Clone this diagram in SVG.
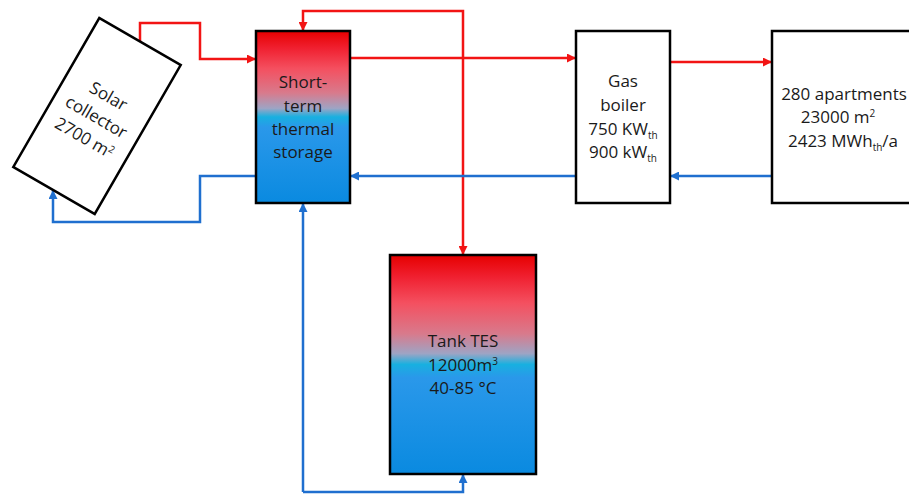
<svg xmlns="http://www.w3.org/2000/svg" width="909" height="497" viewBox="0 0 909 497">
<style>
.box{fill:#fff;stroke:#000;stroke-width:2.5}
.tank{stroke:#000;stroke-width:2.5}
.t{font-family:"Open Sans","Liberation Sans",sans-serif;font-size:17px;fill:#1a1a1a;text-anchor:middle}
.hot{fill:none;stroke:#f21414;stroke-width:2.5}
.cold{fill:none;stroke:#1f6fcf;stroke-width:2.5}
.sub{font-size:10px}
</style>
<defs>
<linearGradient id="grad" x1="0" y1="0" x2="0" y2="1">
<stop offset="0" stop-color="#e60000"/>
<stop offset="0.1" stop-color="#f02030"/>
<stop offset="0.22" stop-color="#f45060"/>
<stop offset="0.36" stop-color="#d87a8c"/>
<stop offset="0.45" stop-color="#9ea4c4"/>
<stop offset="0.5" stop-color="#18b0e0"/>
<stop offset="0.56" stop-color="#2a98ea"/>
<stop offset="1" stop-color="#0a8ae0"/>
</linearGradient>
<marker id="ah" viewBox="0 0 10 10" refX="10" refY="5" markerWidth="9" markerHeight="9" markerUnits="userSpaceOnUse" orient="auto">
<path d="M0,0 L10,5 L0,10 z" fill="#f21414"/>
</marker>
<marker id="ac" viewBox="0 0 10 10" refX="10" refY="5" markerWidth="9" markerHeight="9" markerUnits="userSpaceOnUse" orient="auto">
<path d="M0,0 L10,5 L0,10 z" fill="#1f6fcf"/>
</marker>
</defs>
<g id="connectors">
<path class="hot" d="M140,43 V23 H200 V59 H256" marker-end="url(#ah)"/>
<path class="hot" d="M463,58 V11 H303 V31" marker-end="url(#ah)"/>
<path class="hot" d="M463,58 V255" marker-end="url(#ah)"/>
<path class="hot" d="M350,58 H576" marker-end="url(#ah)"/>
<path class="hot" d="M670,62 H772" marker-end="url(#ah)"/>
<path class="cold" d="M772,176 H670" marker-end="url(#ac)"/>
<path class="cold" d="M576,176 H350" marker-end="url(#ac)"/>
<path class="cold" d="M256,176 H200 V222 H53 V190" marker-end="url(#ac)"/>
<path class="cold" d="M303,492 V203" marker-end="url(#ac)"/>
<path class="cold" d="M303,492 H463 V474" marker-end="url(#ac)"/>
</g>
<g id="solar-collector" transform="translate(97,116) rotate(30)">
<rect class="box" x="-47" y="-86" width="94" height="172"/>
<text class="t" x="0" y="-17">Solar</text>
<text class="t" x="0" y="7">collector</text>
<text class="t" x="0" y="31">2700 m<tspan class="sub" dy="-6">2</tspan></text>
</g>
<g id="short-term-storage">
<rect class="tank" x="256" y="31" width="94" height="172" fill="url(#grad)"/>
<text class="t" x="303" y="88">Short-</text>
<text class="t" x="303" y="112">term</text>
<text class="t" x="303" y="135">thermal</text>
<text class="t" x="303" y="158">storage</text>
</g>
<g id="gas-boiler">
<rect class="box" x="576" y="31" width="94" height="172"/>
<text class="t" x="623" y="87">Gas</text>
<text class="t" x="623" y="111">boiler</text>
<text class="t" x="623" y="135">750 KW<tspan class="sub" dy="4">th</tspan></text>
<text class="t" x="623" y="158">900 kW<tspan class="sub" dy="4">th</tspan></text>
</g>
<g id="apartments">
<rect class="box" x="772" y="31" width="150" height="172"/>
<text class="t" x="844" y="100">280 apartments</text>
<text class="t" x="838" y="123">23000 m<tspan class="sub" dy="-6">2</tspan></text>
<text class="t" x="843" y="147">2423 MWh<tspan class="sub" dy="4">th</tspan><tspan dy="-4">/a</tspan></text>
</g>
<g id="tank-tes">
<rect class="tank" x="390" y="255" width="146" height="219" fill="url(#grad)"/>
<text class="t" x="463" y="347">Tank TES</text>
<text class="t" x="463" y="371">12000m<tspan class="sub" dy="-6">3</tspan></text>
<text class="t" x="463" y="394">40-85 °C</text>
</g>
</svg>
